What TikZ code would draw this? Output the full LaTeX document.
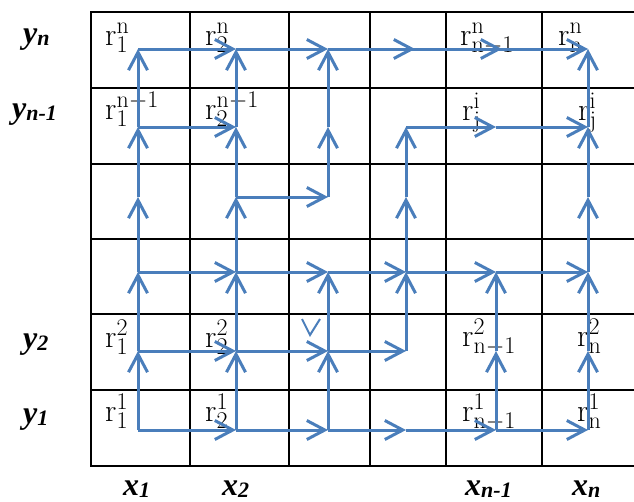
\RequirePackage{fix-cm}
\documentclass[tikz,border=0pt]{standalone}
\usepackage{fontspec}
\newfontfamily\axisfont{Liberation Serif}
\usetikzlibrary{arrows.meta}
\definecolor{pathblue}{RGB}{74,126,187}
\DeclareMathSizes{32}{32}{24}{18}
\newcommand{\axlabel}[2]{#1\raisebox{-2pt}{\fontsize{22}{24}\selectfont #2}}

\begin{document}
\begin{tikzpicture}[x=1pt, y=-1pt,
  gridline/.style={line width=2.7pt, line cap=rect},
  flow/.style={draw=pathblue, line width=3pt, -{Straight Barb[length=18pt, width=19pt]}},
  cell/.style={anchor=base west, inner sep=0pt, font=\fontsize{32}{34}\selectfont},
  axis/.style={anchor=base west, inner sep=0pt, font=\fontsize{32}{34}\selectfont\axisfont\bfseries\itshape},
]
  \useasboundingbox (0,0) rectangle (634,501);
  % table
  \foreach \gy in {12,88,164,239,314,390,466}
    \draw[gridline] (91,\gy) -- (634,\gy);
  \foreach \gx in {91,190,289,370,446,542}
    \draw[gridline] (\gx,12) -- (\gx,466);
  % path points, column/row
  \foreach \c/\gx in {1/138,2/236,3/328,4/406,5/496,6/588}
    \foreach \r/\gy in {1/430,2/351,3/272,4/197,5/127,6/49}
      \coordinate (p\c\r) at (\gx,\gy);
  % axis labels
  \node[axis] (yn) at (23,43) {\axlabel{y}{n}};
  \node[axis] (yn1) at (12,118) {\axlabel{y}{n-1}};
  \node[axis] (y2) at (23,348) {\axlabel{y}{2}};
  \node[axis] (y1) at (23,423) {\axlabel{y}{1}};
  \node[axis] (x1) at (123,495) {\axlabel{x}{1}};
  \node[axis] (x2) at (222,495) {\axlabel{x}{2}};
  \node[axis] (xn1) at (465,495) {\axlabel{x}{n-1}};
  \node[axis] (xn) at (572,495) {\axlabel{x}{n}};
  % cell labels
  \node[cell] (r16) at (105,45) {$\mathrm{r}_1^{\mathrm{n}}$};
  \node[cell] (r26) at (205,45) {$\mathrm{r}_2^{\mathrm{n}}$};
  \node[cell] (r56) at (460,45) {$\mathrm{r}_{\mathrm{n}-1}^{\mathrm{n}}$};
  \node[cell] (r66) at (558,45) {$\mathrm{r}_{\mathrm{n}}^{\mathrm{n}}$};
  \node[cell] (r15) at (105,119) {$\mathrm{r}_1^{\mathrm{n}-1}$};
  \node[cell] (r25) at (205,119) {$\mathrm{r}_2^{\mathrm{n}-1}$};
  \node[cell] (r55) at (462,120) {$\mathrm{r}_{\mathrm{j}}^{\mathrm{i}}$};
  \node[cell] (r65) at (578,120) {$\mathrm{r}_{\mathrm{j}}^{\mathrm{i}}$};
  \node[cell] (r12) at (105,347) {$\mathrm{r}_1^2$};
  \node[cell] (r22) at (205,347) {$\mathrm{r}_2^2$};
  \node[cell] (r52) at (462,346) {$\mathrm{r}_{\mathrm{n}-1}^2$};
  \node[cell] (r62) at (577,346) {$\mathrm{r}_{\mathrm{n}}^2$};
  \node[cell] (r11) at (105,421) {$\mathrm{r}_1^1$};
  \node[cell] (r21) at (205,421) {$\mathrm{r}_2^1$};
  \node[cell] (r51) at (462,421) {$\mathrm{r}_{\mathrm{n}-1}^1$};
  \node[cell] (r61) at (577,421) {$\mathrm{r}_{\mathrm{n}}^1$};
  % upward steps
  \foreach \a/\b in {p11/p12,p12/p13,p13/p14,p14/p15,p15/p16,
                     p21/p22,p22/p23,p23/p24,p24/p25,p25/p26,
                     p31/p32,p32/p33,p34/p35,p35/p36,
                     p42/p43,p43/p44,p44/p45,
                     p51/p52,p52/p53,
                     p61/p62,p62/p63,p63/p64,p64/p65,p65/p66}
    \draw[flow] (\a) -- (\b);
  % rightward steps
  \foreach \a/\b in {p11/p21,p21/p31,p31/p41,p41/p51,p51/p61,
                     p12/p22,p22/p32,p32/p42,
                     p13/p23,p23/p33,p33/p43,p43/p53,p53/p63,
                     p24/p34,
                     p15/p25,p45/p55,p55/p65,
                     p16/p26,p26/p36,p56/p66}
    \draw[flow] (\a) -- (\b);
  \draw[flow, shorten >=-9pt] (p36) -- (p46);
  \draw[flow, shorten >=-6pt] (p46) -- (p56);
  % stray tip
  \draw[pathblue, line width=2pt] (302,319) -- (310,335) -- (320,319);
\end{tikzpicture}
\end{document}
